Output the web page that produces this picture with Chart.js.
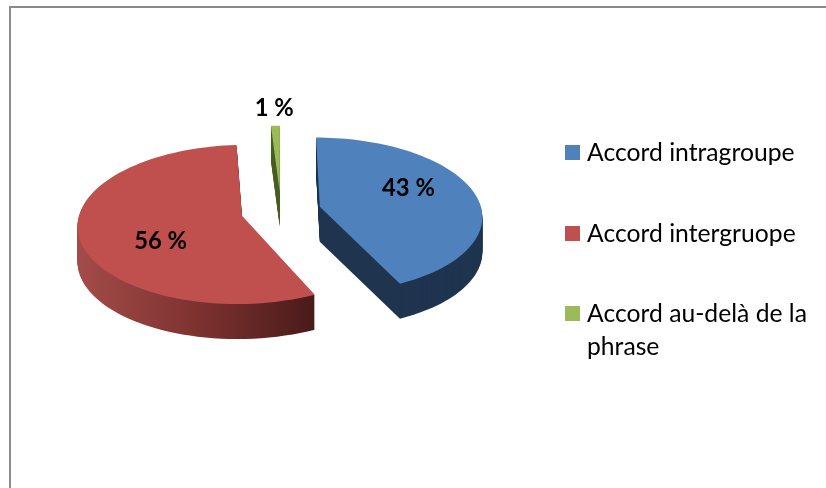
<!DOCTYPE html>
<html>
<head>
<meta charset="utf-8">
<script src="https://cdn.jsdelivr.net/npm/chart.js@4"></script>
<style>
  html, body { margin: 0; padding: 0; background: #fff; overflow: hidden; }
  #wrap { position: relative; width: 826px; height: 488px; overflow: hidden; }
  #frame { position: absolute; left: 9px; top: 6px; width: 900px; height: 600px; border-left: 2px solid #8a8a8a; border-top: 2px solid #8a8a8a; }
  canvas { position: absolute; left: 0; top: 0; }
  #legend { position: absolute; left: 565px; top: 135px; width: 250px; margin: 0; padding: 0; list-style: none; font: 24.7px/33px Lato, sans-serif; color: #000; }
  #legend li { position: relative; padding-left: 22px; margin-bottom: 47.5px; }
  #legend span { position: absolute; left: 0; top: 10px; width: 15px; height: 15px; }
</style>
</head>
<body>
<div id="wrap">
  <div id="frame"></div>
  <canvas id="pieChart" width="826" height="488"></canvas>
  <ul id="legend"></ul>
</div>
<script>
  var categories = ['Accord intragroupe', 'Accord intergruope', 'Accord au-delà de la phrase'];
  var values = [43, 56, 1];
  var valueLabels = ['43 %', '56 %', '1 %'];

  var topColors = ['#4f81bd', '#c0504d', '#9bbb59'];
  var wallColors = ['#1f344f', null, '#4a5f24'];

  // perspective of the tilted pie
  var tilt = 0.479, persp = 0.000667, depth = 35;
  // label spot: part of the radius along the slice middle, then a vertical nudge
  var labelRadius = [0.575, 0.505, 1.32];
  var labelNudge = [-9, 16, 1];

  function project(chartArc, dx, dy) {
    var s = 1 / (1 - persp * dy);
    return { x: chartArc.x + dx * s, y: chartArc.y + tilt * dy * s };
  }

  function slicePath(ctx, arc, offset, shift) {
    var mid = (arc.startAngle + arc.endAngle) / 2;
    var ax = Math.cos(mid) * offset, ay = Math.sin(mid) * offset;
    var p = project(arc, ax, ay);
    ctx.beginPath();
    ctx.moveTo(p.x, p.y + shift);
    var steps = 80;
    for (var i = 0; i <= steps; i++) {
      var a = arc.startAngle + (arc.endAngle - arc.startAngle) * i / steps;
      p = project(arc, ax + Math.cos(a) * arc.outerRadius, ay + Math.sin(a) * arc.outerRadius);
      ctx.lineTo(p.x, p.y + shift);
    }
    ctx.closePath();
  }

  var tiltedPie = {
    id: 'tiltedPie',
    beforeDatasetDraw: function(chart, args) {
      var ctx = chart.ctx;
      var arcs = args.meta.data;
      // red wall is shaded from left to right
      var redWall = ctx.createLinearGradient(80, 0, 315, 0);
      redWall.addColorStop(0, '#a34b48');
      redWall.addColorStop(0.5, '#7d3230');
      redWall.addColorStop(1, '#491b19');

      ctx.save();
      arcs.forEach(function(arc, i) {
        var offset = arc.options.offset;
        ctx.fillStyle = wallColors[i] || redWall;
        for (var d = depth; d > 0; d--) {
          slicePath(ctx, arc, offset, d);
          ctx.fill();
        }
        ctx.fillStyle = topColors[i];
        slicePath(ctx, arc, offset, 0);
        ctx.fill();
      });

      ctx.fillStyle = '#000';
      ctx.font = 'bold 23.8px Lato, sans-serif';
      ctx.textAlign = 'center';
      ctx.textBaseline = 'middle';
      arcs.forEach(function(arc, i) {
        var offset = arc.options.offset;
        var mid = (arc.startAngle + arc.endAngle) / 2;
        var rr = offset + arc.outerRadius * labelRadius[i];
        var p = project(arc, Math.cos(mid) * rr, Math.sin(mid) * rr);
        ctx.fillText(valueLabels[i], p.x, p.y + labelNudge[i]);
      });
      ctx.restore();
      return false; // skip the flat default drawing
    }
  };

  var ctx = document.getElementById('pieChart').getContext('2d');

  var myPie = new Chart(ctx, {
    type: 'pie',
    data: {
      labels: categories,
      datasets: [{
        data: values,
        backgroundColor: topColors,
        borderWidth: 0,
        offset: 40
      }]
    },
    options: {
      responsive: false,
      animation: false,
      layout: { padding: { left: 99, right: 363, top: 29, bottom: 95 } },
      plugins: {
        legend: { display: false },
        tooltip: { enabled: false }
      }
    },
    plugins: [tiltedPie]
  });

  // legend next to the pie, the long label wraps like in the original
  var legend = document.getElementById('legend');
  categories.forEach(function(name, i) {
    var li = document.createElement('li');
    var box = document.createElement('span');
    box.style.background = topColors[i];
    li.appendChild(box);
    li.appendChild(document.createTextNode(name));
    legend.appendChild(li);
  });
</script>
</body>
</html>
